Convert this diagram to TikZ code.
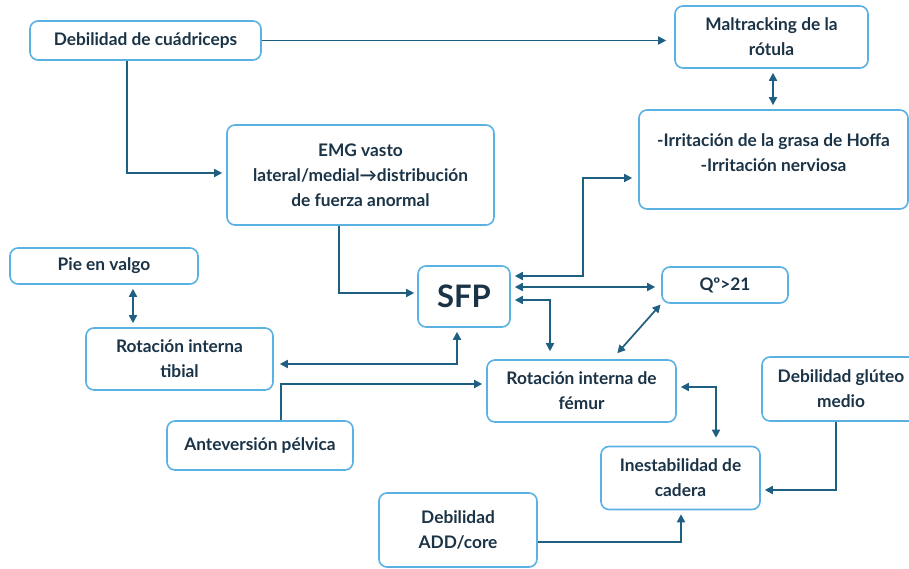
\documentclass[tikz,border=0pt]{standalone}
\usepackage{fontspec}
\setmainfont{Lato}
\usetikzlibrary{arrows.meta}
\definecolor{boxblue}{HTML}{5AB2E2}
\definecolor{lineblue}{HTML}{1E5F82}
\definecolor{txt}{HTML}{1A3346}
\tikzset{
  boxfont/.style={font=\bfseries\fontsize{17.3}{25}\selectfont},
  box/.style={draw=boxblue, line width=1.6pt, rounded corners=8pt, fill=white,
    text=txt, boxfont, align=center, inner sep=0pt},
  tip/.tip={Triangle[length=8pt,width=8pt]},
  conn/.style={draw=lineblue, line width=1.7pt, -tip, shorten >=4pt},
  dconn/.style={draw=lineblue, line width=1.7pt, tip-tip, shorten >=4pt, shorten <=4pt},
}
\begin{document}
\begin{tikzpicture}[x=1pt,y=-1pt]
\useasboundingbox (0,0) rectangle (909,569);
\clip (0,0) rectangle (909,569);
% boxes
\node[box, minimum width=231, minimum height=39] (cuad) at (145.5,40.5) {Debilidad de cuádriceps};
\node[box, minimum width=193, minimum height=62] (malt) at (771.5,37) {Maltracking de la\\rótula};
\node[box, minimum width=269, minimum height=99] (irr) at (773.5,159.5) {};
\node[text=txt, boxfont, align=center] (irrt) at (773.5,152.5) {-Irritación de la grasa de Hoffa\\-Irritación nerviosa};
\node[box, minimum width=267, minimum height=100] (emg) at (360.5,175) {EMG vasto\\lateral/medial\textrightarrow distribución\\de fuerza anormal};
\node[box, minimum width=188, minimum height=36] (pie) at (104,266) {Pie en valgo};
\node[box, minimum width=187, minimum height=62] (tibial) at (179.5,359) {Rotación interna\\tibial};
\node[box, minimum width=92, minimum height=61, font=\bfseries\fontsize{31}{34}\selectfont] (sfp) at (464,296.5) {SFP};
\node[box, minimum width=126, minimum height=36] (qo) at (725,285) {Qº>21};
\node[box, minimum width=189, minimum height=62] (femur) at (581.5,391) {Rotación interna de\\fémur};
\node[box, minimum width=158, minimum height=64] (glut) at (841,389) {Debilidad glúteo\\medio};
\node[box, minimum width=186, minimum height=49] (antev) at (260,445.5) {Anteversión pélvica};
\node[box, minimum width=159, minimum height=63] (inest) at (680.5,478) {Inestabilidad de\\cadera};
\node[box, minimum width=158, minimum height=74] (add) at (458,530) {Debilidad\\ADD/core};
% connectors
\draw[conn, shorten >=8pt] (cuad.east) -- (cuad.east -| malt.west);
\draw[conn] (cuad.south -| 127,0) |- (emg.west |- 0,173);
\draw[dconn] (malt.south -| 773,0) -- (irr.north -| 773,0);
\draw[conn, shorten >=3pt] (emg.south -| 339,0) |- (sfp.west |- 0,293);
\draw[dconn, shorten >=6pt] (sfp.east |- 0,276) -| (583,178) -- (irr.west |- 0,178);
\draw[dconn, shorten >=6pt] (sfp.east |- 0,287) -- (qo.west |- 0,287);
\draw[dconn, shorten >=8pt] (sfp.east |- 0,300) -| (femur.north -| 550,0);
\draw[dconn, shorten <=1pt, shorten >=8pt] (qo.south west) -- (femur.north -| 612,0);
\draw[dconn, shorten <=6pt] (tibial.east |- 0,364) -| (sfp.south -| 457,0);
\draw[conn] (antev.north -| 281,0) |- (femur.west |- 0,384);
\draw[dconn, shorten >=8pt] (femur.east |- 0,387) -| (inest.north -| 716,0);
\draw[conn] (glut.south -| 836,0) |- (inest.east |- 0,490);
\draw[conn] (add.east |- 0,542) -| (inest.south -| 681,0);
\draw[dconn] (pie.south -| 133,0) -- (tibial.north -| 133,0);
\end{tikzpicture}
\end{document}
